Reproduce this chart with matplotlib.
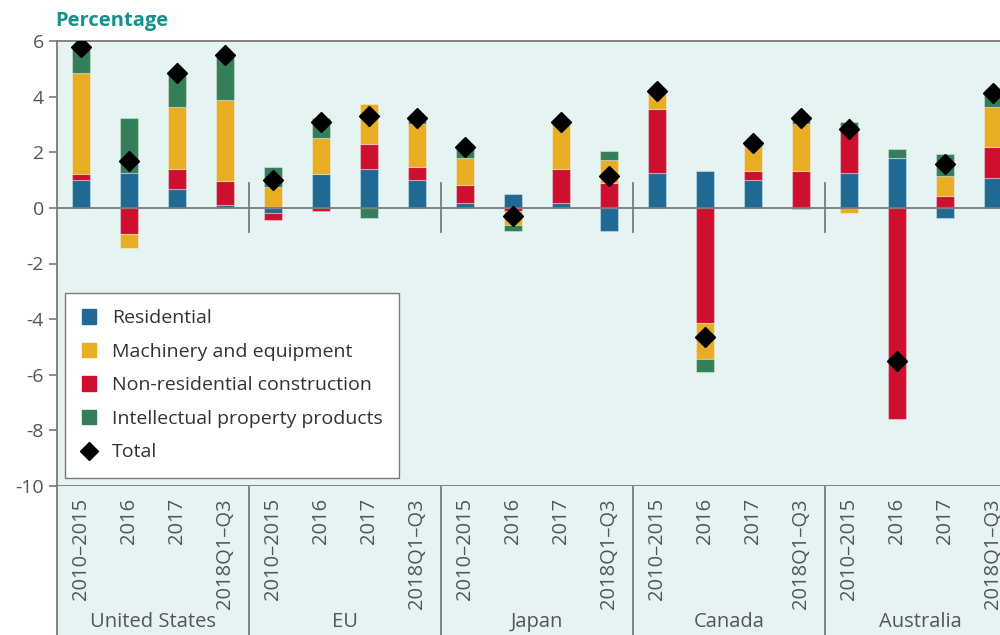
import numpy as np
import matplotlib.pyplot as plt
from matplotlib.lines import Line2D
from matplotlib.patches import Patch

plt.rcParams['font.family'] = ['Open Sans', 'DejaVu Sans']

countries = ['United States', 'EU', 'Japan', 'Canada', 'Australia']
periods = ['2010\u20132015', '2016', '2017', '2018Q1\u2013Q3']

# contributions, percentage points (order: US x4, EU x4, Japan x4, Canada x4, Australia x4)
residential = [1.00, 1.25, 0.67, 0.10,
               -0.20, 1.23, 1.39, 1.00,
               0.19, 0.51, 0.19, -0.84,
               1.25, 1.31, 1.00, -0.05,
               1.25, 1.79, -0.37, 1.07]
non_residential = [0.23, -0.94, 0.71, 0.88,
                   -0.24, -0.12, 0.89, 0.47,
                   0.65, -0.12, 1.20, 0.91,
                   2.31, -4.14, 0.31, 1.31,
                   1.67, -7.59, 0.43, 1.12]
machinery = [3.63, -0.50, 2.26, 2.90,
             0.76, 1.30, 1.45, 1.53,
             0.96, -0.48, 1.61, 0.81,
             0.57, -1.29, 0.89, 1.69,
             -0.20, 0.00, 0.72, 1.45]
ipp = [0.96, 1.99, 1.20, 1.61,
       0.71, 0.71, -0.37, 0.24,
       0.39, -0.23, 0.08, 0.32,
       0.08, -0.48, 0.15, 0.28,
       0.16, 0.32, 0.80, 0.49]
total = [5.80, 1.70, 4.84, 5.48,
         1.00, 3.08, 3.32, 3.24,
         2.19, -0.31, 3.08, 1.16,
         4.21, -4.63, 2.35, 3.24,
         2.84, -5.51, 1.56, 4.13]

series = [('Residential', residential, '#1f6994'),
          ('Machinery and equipment', machinery, '#e8ad22'),
          ('Non-residential construction', non_residential, '#cf0f2f'),
          ('Intellectual property products', ipp, '#347f59')]
stack_order = [0, 2, 1, 3]  # res, non-res, machinery, ipp

bg = '#e5f4f3'
grey = '#7a7a7a'
txt = '#555555'

fig = plt.figure(figsize=(10, 6.35), dpi=100)
ax = fig.add_axes([0.057, 1 - 486 / 635, 0.943, (486 - 41) / 635])
ax2 = fig.add_axes([0.057, 0, 0.943, 1 - 486 / 635])

x = np.arange(len(total))
pos = np.zeros(len(x))
neg = np.zeros(len(x))
for i in stack_order:
    name, vals, col = series[i]
    v = np.array(vals)
    bottoms = np.where(v >= 0, pos, neg)
    ax.bar(x, v, 0.37, bottom=bottoms, color=col, edgecolor=(1, 1, 1, 0.35),
           linewidth=0.8, zorder=2)
    pos += np.where(v >= 0, v, 0)
    neg += np.where(v < 0, v, 0)

ax.plot(x, total, 'D', color='black', ms=10, zorder=4, linestyle='none')
ax.axhline(0, color=grey, lw=1.3, zorder=3)
for b in [3.5, 7.5, 11.5, 15.5]:
    ax.plot([b, b], [-0.85, 0.9], color=grey, lw=1.3, zorder=3)

ax.set_facecolor(bg)
ax.set_xlim(-0.5, 19.15)
ax.set_ylim(-10, 6)
ax.set_yticks(range(-10, 7, 2))
ax.set_yticklabels([str(t) for t in range(-10, 7, 2)], fontsize=14, color=txt)
ax.set_xticks([])
ax.tick_params(axis='y', length=6, color=grey, width=1.2)
for s in ['top', 'left', 'bottom']:
    ax.spines[s].set_color(grey)
    ax.spines[s].set_linewidth(1.3)
ax.spines['right'].set_visible(False)
ax.text(-0.002, 1.022, 'Percentage', transform=ax.transAxes, fontsize=14.5,
        fontweight='bold', color='#17908b', ha='left', va='bottom')

handles = [Patch(color=series[i][2], label=series[i][0]) for i in range(4)]
handles.append(Line2D([], [], marker='D', color='black', ls='none', ms=9, label='Total'))
leg = ax.legend(handles=handles, loc='lower left', bbox_to_anchor=(0.0085, 0.018),
                borderaxespad=0, fontsize=14, frameon=True, fancybox=False,
                handlelength=0.75, handleheight=0.75, handletextpad=0.8,
                labelspacing=0.8, borderpad=0.85, labelcolor='#333333')
leg.get_frame().set_edgecolor(grey)
leg.get_frame().set_linewidth(1.0)
leg.get_frame().set_facecolor('white')
leg.get_frame().set_alpha(1)

ax2.set_facecolor(bg)
ax2.set_xlim(-0.5, 19.15)
ax2.set_ylim(0, 1)
ax2.set_xticks([])
ax2.set_yticks([])
for s in ['top', 'right', 'bottom']:
    ax2.spines[s].set_visible(False)
ax2.spines['left'].set_color(grey)
ax2.spines['left'].set_linewidth(1.3)
for b in [3.5, 7.5, 11.5, 15.5]:
    ax2.axvline(b, color=grey, lw=1.3)
for k in x:
    ax2.text(k, 0.92, periods[k % 4], rotation=90, ha='center', va='top',
             fontsize=14.5, color=txt)
for g, c in enumerate(countries):
    ax2.text(g * 4 + 1.5, 0.02, c, ha='center', va='bottom', fontsize=14.5, color=txt)

fig.savefig('out.png', dpi=100)
